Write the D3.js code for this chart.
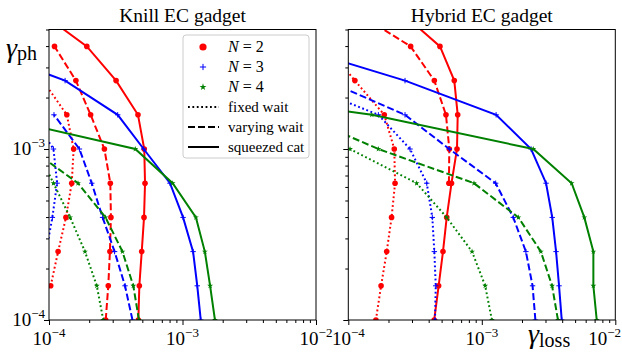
<!DOCTYPE html>
<html>
<head>
<meta charset="utf-8">
<script src="https://cdn.jsdelivr.net/npm/d3@7"></script>
<style>
  body { margin: 0; background: #fff; }
  text { font-family: "Liberation Serif", "DejaVu Serif", serif; fill: #000; }
</style>
</head>
<body>
<div id="chart"></div>
<script>
// gamma_ph levels shared by every curve (index k = 0 .. 9)
const gammaPh = [1e-4, 1.585e-4, 2.512e-4, 3.981e-4, 6.31e-4, 1e-3, 1.585e-3, 2.512e-3, 3.981e-3, 6.31e-3];

// gamma_loss, one value per gammaPh level (null = no point)
const knillN2Fixed = [null, 1.03e-4, 1.17e-4, 1.34e-4, 1.48e-4, 1.53e-4, 1.36e-4, 0.90e-4, null, null];
const knillN2Vary  = [2.66e-4, 2.78e-4, 2.86e-4, 2.91e-4, 2.88e-4, 2.60e-4, 2.05e-4, 1.59e-4, 1.10e-4, null];
const knillN2Cat   = [4.67e-4, 4.75e-4, 4.95e-4, 5.15e-4, 5.24e-4, 5.17e-4, 4.64e-4, 3.18e-4, 1.92e-4, 0.86e-4];
const knillN3Fixed = [null, null, 0.95e-4, 1.06e-4, 1.15e-4, 1.08e-4, 0.74e-4, null, null, null];
const knillN3Vary  = [4.22e-4, 3.71e-4, 3.10e-4, 2.52e-4, 2.09e-4, 1.69e-4, 1.09e-4, null, null, null];
const knillN3Cat   = [1.37e-3, 1.29e-3, 1.20e-3, 1.01e-3, 8.06e-4, 5.12e-4, 3.27e-4, 1.32e-4, 0.27e-4, null];
const knillN4Fixed = [2.55e-4, 2.28e-4, 1.86e-4, 1.44e-4, 1.08e-4, 0.81e-4, null, null, null, null];
const knillN4Vary  = [4.72e-4, 4.28e-4, 3.55e-4, 2.65e-4, 1.65e-4, 0.73e-4, null, null, null, null];
const knillN4Cat   = [1.75e-3, 1.61e-3, 1.47e-3, 1.26e-3, 8.44e-4, 4.43e-4, 0.334e-4, null, null, null];

const hybN2Fixed = [1.61e-4, 1.76e-4, 1.94e-4, 2.11e-4, 2.24e-4, 2.21e-4, 1.86e-4, 1.12e-4, 0.69e-4, null];
const hybN2Vary  = [null, null, null, null, 5.67e-4, 5.71e-4, 5.39e-4, 4.41e-4, 2.93e-4, 1.14e-4];
const hybN2Cat   = [4.40e-4, 4.75e-4, 5.12e-4, 5.46e-4, 5.93e-4, 6.52e-4, 6.60e-4, 6.22e-4, 4.86e-4, 2.48e-4];
const hybN3Fixed = [4.46e-4, 4.52e-4, 4.41e-4, 4.26e-4, 3.87e-4, 2.90e-4, 1.68e-4, 0.39e-4, null, null];
const hybN3Vary  = [2.52e-3, 2.40e-3, 2.14e-3, 1.72e-3, 1.27e-3, 5.71e-4, 2.66e-4, 0.686e-4, null, null];
const hybN3Cat   = [3.97e-3, 3.79e-3, 3.60e-3, 3.37e-3, 3.03e-3, 2.34e-3, 1.28e-3, 2.66e-4, 0.384e-4, null];
const hybN4Fixed = [1.19e-3, 1.06e-3, 8.45e-4, 5.46e-4, 3.25e-4, 1.03e-4, 0.32e-4, null, null, null];
const hybN4Vary  = [3.72e-3, 3.36e-3, 2.77e-3, 1.88e-3, 8.74e-4, 1.68e-4, 0.43e-4, null, null, null];
const hybN4Cat   = [7.26e-3, 6.85e-3, 6.85e-3, 5.86e-3, 4.71e-3, 2.43e-3, 1.50e-4, 2e-6, null, null];

const xMajor = [1e-4, 1e-3, 1e-2];
const xMajorLabels = ["\u22124", "\u22123", "\u22122"];
const yMajor = [1e-4, 1e-3];
const yMajorLabels = ["\u22124", "\u22123"];
const nValues = [2, 3, 4];
const waitStyles = ["fixed wait", "varying wait", "squeezed cat"];

const knillSeries = [
    {n: 2, style: 0, xs: knillN2Fixed}, {n: 2, style: 1, xs: knillN2Vary}, {n: 2, style: 2, xs: knillN2Cat},
    {n: 3, style: 0, xs: knillN3Fixed}, {n: 3, style: 1, xs: knillN3Vary}, {n: 3, style: 2, xs: knillN3Cat},
    {n: 4, style: 0, xs: knillN4Fixed}, {n: 4, style: 1, xs: knillN4Vary}, {n: 4, style: 2, xs: knillN4Cat}
];
const hybSeries = [
    {n: 2, style: 0, xs: hybN2Fixed}, {n: 2, style: 1, xs: hybN2Vary}, {n: 2, style: 2, xs: hybN2Cat},
    {n: 3, style: 0, xs: hybN3Fixed}, {n: 3, style: 1, xs: hybN3Vary}, {n: 3, style: 2, xs: hybN3Cat},
    {n: 4, style: 0, xs: hybN4Fixed}, {n: 4, style: 1, xs: hybN4Vary}, {n: 4, style: 2, xs: hybN4Cat}
];

const colors = {2: "#ff0000", 3: "#0000ff", 4: "#008000"};
const dashes = ["1.8,2.6", "7,3", null];

const width = 622, height = 354;
const plotTop = 29.5, plotBottom = 320;
const panels = [
    {id: "knill", title: "Knill EC gadget", left: 49, right: 316, series: knillSeries, yLabels: true},
    {id: "hyb", title: "Hybrid EC gadget", left: 348.3, right: 615.3, series: hybSeries, yLabels: false}
];

const svg = d3.select("#chart")
    .append("svg")
    .attr("width", width)
    .attr("height", height)
    .attr("style", "background-color: #ffffff");

const y = d3.scaleLog().domain([1e-4, 5e-3]).range([plotBottom, plotTop]);

function minors(lo, hi) {
    const out = [];
    for (let d = lo; d < hi; d *= 10) {
        for (let m = 2; m <= 9; m++) {
            const v = m * d;
            if (v <= hi * 1.0001) out.push(v);
        }
    }
    return out;
}

function marker(g, n, size) {
    const c = colors[n];
    if (n === 2) {
        g.append("circle").attr("r", size).attr("fill", c);
    } else if (n === 3) {
        const s = size + 0.5;
        g.append("path").attr("d", `M${-s},0H${s}M0,${-s}V${s}`)
            .attr("stroke", c).attr("stroke-width", 1).attr("fill", "none");
    } else {
        g.append("path").attr("d", d3.symbol(d3.symbolStar, size * size * 2.2)())
            .attr("fill", c);
    }
}

panels.forEach(p => {
    const x = d3.scaleLog().domain([1e-4, 1e-2]).range([p.left, p.right]);
    const g = svg.append("g");

    g.append("clipPath").attr("id", "clip-" + p.id)
        .append("rect")
        .attr("x", p.left).attr("y", plotTop)
        .attr("width", p.right - p.left).attr("height", plotBottom - plotTop);

    const plot = g.append("g").attr("clip-path", `url(#clip-${p.id})`);

    p.series.forEach(s => {
        const pts = s.xs.map((v, k) => [v, gammaPh[k]]).filter(d => d[0] !== null);
        const line = d3.line().x(d => x(d[0])).y(d => y(d[1]));
        plot.append("path")
            .datum(pts)
            .attr("fill", "none")
            .attr("stroke", colors[s.n])
            .attr("stroke-width", 2)
            .attr("stroke-dasharray", dashes[s.style])
            .attr("d", line);
        pts.forEach(d => {
            const m = plot.append("g").attr("transform", `translate(${x(d[0])},${y(d[1])})`);
            marker(m, s.n, s.n === 2 ? 2.8 : 2.2);
        });
    });

    // axes
    const xAxis = g.append("g").attr("transform", `translate(0,${plotBottom})`);
    xAxis.append("g").call(d3.axisBottom(x).tickValues(minors(1e-4, 1e-2)).tickSize(3).tickFormat(""));
    xAxis.append("g").call(d3.axisBottom(x).tickValues(xMajor).tickSize(5).tickFormat(""));

    const yAxis = g.append("g").attr("transform", `translate(${p.left},0)`);
    yAxis.append("g").call(d3.axisLeft(y).tickValues(minors(1e-4, 5e-3)).tickSize(3).tickFormat(""));
    yAxis.append("g").call(d3.axisLeft(y).tickValues(yMajor).tickSize(5).tickFormat(""));
    g.selectAll(".domain").remove();

    g.append("rect")
        .attr("x", p.left).attr("y", plotTop)
        .attr("width", p.right - p.left).attr("height", plotBottom - plotTop)
        .attr("fill", "none").attr("stroke", "#000").attr("stroke-width", 1);

    xMajor.forEach((v, i) => {
        // keep the last label of the right panel inside the window
        const atEdge = x(v) + 16 > width;
        const t = g.append("text")
            .attr("x", atEdge ? width - 1 : x(v)).attr("y", 345)
            .attr("text-anchor", atEdge ? "end" : "middle")
            .attr("font-size", 19);
        t.append("tspan").text("10");
        t.append("tspan").attr("font-size", 13).attr("dy", -8).text(xMajorLabels[i]);
    });

    if (p.yLabels) {
        yMajor.forEach((v, i) => {
            const t = g.append("text")
                .attr("x", p.left - 4).attr("y", y(v) + 6)
                .attr("text-anchor", "end")
                .attr("font-size", 19);
            t.append("tspan").text("10");
            t.append("tspan").attr("font-size", 13).attr("dy", -8).text(yMajorLabels[i]);
        });
    }

    g.append("text")
        .attr("x", (p.left + p.right) / 2).attr("y", 22)
        .attr("text-anchor", "middle")
        .attr("font-size", 19.5)
        .text(p.title);
});

// axis labels
const yl = svg.append("text").attr("x", 6).attr("y", 57).attr("font-size", 28);
yl.append("tspan").attr("font-style", "italic").text("\u03b3");
yl.append("tspan").attr("font-size", 20).attr("dy", 3).text("ph");

const xl = svg.append("text").attr("x", 528).attr("y", 343).attr("font-size", 28);
xl.append("tspan").attr("font-style", "italic").text("\u03b3");
xl.append("tspan").attr("font-size", 20).attr("dy", 4).text("loss");

// legend
const lg = svg.append("g");
lg.append("rect")
    .attr("x", 183).attr("y", 35).attr("width", 126).attr("height", 123)
    .attr("rx", 3).attr("fill", "#fff").attr("fill-opacity", 0.8)
    .attr("stroke", "#cccccc").attr("stroke-width", 1);

nValues.forEach((n, i) => {
    const cy = 47 + i * 20;
    const m = lg.append("g").attr("transform", `translate(203,${cy})`);
    marker(m, n, n === 2 ? 3.6 : 2.6);
    const t = lg.append("text").attr("x", 228).attr("y", cy + 5).attr("font-size", 16);
    t.append("tspan").attr("font-style", "italic").text("N");
    t.append("tspan").text(" = " + n);
});

waitStyles.forEach((label, i) => {
    const cy = 107 + i * 20;
    lg.append("line")
        .attr("x1", 188).attr("x2", 219).attr("y1", cy).attr("y2", cy)
        .attr("stroke", "#000").attr("stroke-width", 2)
        .attr("stroke-dasharray", dashes[i]);
    lg.append("text").attr("x", 228).attr("y", cy + 5).attr("font-size", 15).text(label);
});
</script>
</body>
</html>
